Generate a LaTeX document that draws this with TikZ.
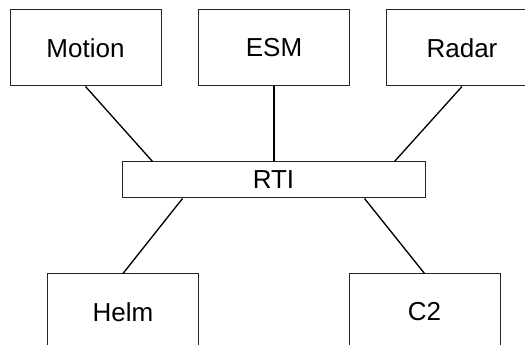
\documentclass[tikz,border=0pt]{standalone}
\usepackage{fontspec}
\setmainfont{Liberation Sans}
\usetikzlibrary{calc}
\begin{document}
\begin{tikzpicture}[x=0.75pt,y=-0.75pt,
  unit/.style={draw=black!85,line width=0.75pt,fill=white,rectangle,
    minimum width=113.25pt,minimum height=57pt,inner sep=0pt,
    font=\fontsize{19.5}{22}\selectfont},
  bus/.style={unit,minimum width=227.25pt,minimum height=27pt},
  link/.style={draw=black,line width=1pt}]
\useasboundingbox (0,0) rectangle (525,345);
\clip (0,0) rectangle (525,345);
% federates
\node[unit] (motion) at (85.5,48) {Motion};
\node[unit] (esm) at (274,48) {ESM};
\node[unit] (radar) at (462,48) {Radar};
% runtime infrastructure
\node[bus] (rti) at (273.5,180) {RTI};
% lower federates
\node[unit] (helm) at (123,312) {Helm};
\node[unit] (c2) at (424.5,312) {C2};
% connections
\draw[link] (motion.south) -- ($(rti.north west)+(31,0)$);
\draw[link] (esm.south) -- (esm.south |- rti.north);
\draw[link] (radar.south) -- ($(rti.north east)+(-31,0)$);
\draw[link] ($(rti.south west)+(61,0)$) -- (helm.north);
\draw[link] ($(rti.south east)+(-61,0)$) -- (c2.north);
\end{tikzpicture}
\end{document}
